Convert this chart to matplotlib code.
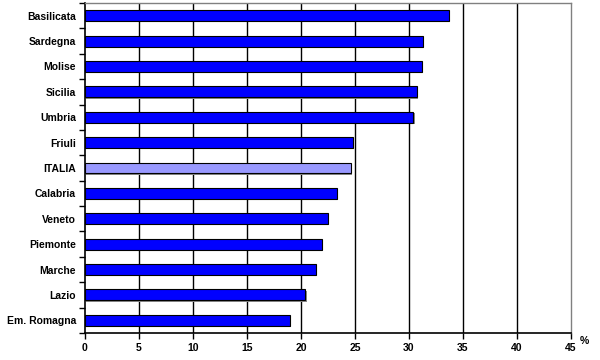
import matplotlib
matplotlib.use("Agg")
import matplotlib.pyplot as plt
import numpy as np

regions = ["Basilicata", "Sardegna", "Molise", "Sicilia", "Umbria", "Friuli", "ITALIA",
           "Calabria", "Veneto", "Piemonte", "Marche", "Lazio", "Em. Romagna"]
values = [33.7, 31.3, 31.2, 30.7, 30.4, 24.8, 24.6, 23.3, 22.5, 21.9, 21.4, 20.4, 19.0]
xticks = [0, 5, 10, 15, 20, 25, 30, 35, 40, 45]

plt.rcParams['font.family'] = ['Liberation Sans', 'DejaVu Sans']

fig = plt.figure(figsize=(6, 3.6), dpi=100)
ax = fig.add_axes([85/600, 1-333/360, (571-85)/600, (333-3)/360])

n = len(regions)
ypos = np.arange(n)[::-1]
colors = ['#9999FF' if r == 'ITALIA' else '#0000FF' for r in regions]

# shadow
ax.barh(ypos - 0.05, values, height=0.43, left=0.12, color='#888888', edgecolor='none', zorder=2)
ax.barh(ypos, values, height=0.43, color=colors, edgecolor='black', linewidth=0.8, zorder=3)

ax.set_xlim(0, 45)
ax.set_ylim(-0.5, n - 0.5)
ax.set_xticks(xticks)
ax.set_xticklabels([str(t) for t in xticks], fontsize=7.5, fontweight='bold')
ax.set_yticks(ypos)
ax.set_yticklabels(regions, fontsize=7.5, fontweight='bold')
ax.tick_params(axis='y', length=0, pad=6.5)
ax.set_yticks(np.arange(-0.5, n, 1.0), minor=True)
ax.tick_params(axis='y', which='minor', length=4, width=1, direction='out')
ax.tick_params(axis='x', length=4, width=1, direction='out', pad=3)

for t in xticks[1:-1]:
    ax.axvline(t, color='black', linewidth=1, zorder=1)

for s in ['top', 'right']:
    ax.spines[s].set_color('#808080')
    ax.spines[s].set_linewidth(1)
for s in ['left', 'bottom']:
    ax.spines[s].set_color('black')
    ax.spines[s].set_linewidth(1.2)

fig.text(584/600, 1-341/360, '%', fontsize=7.5, fontweight='bold', ha='center', va='center')

fig.savefig('out.png', dpi=100)
